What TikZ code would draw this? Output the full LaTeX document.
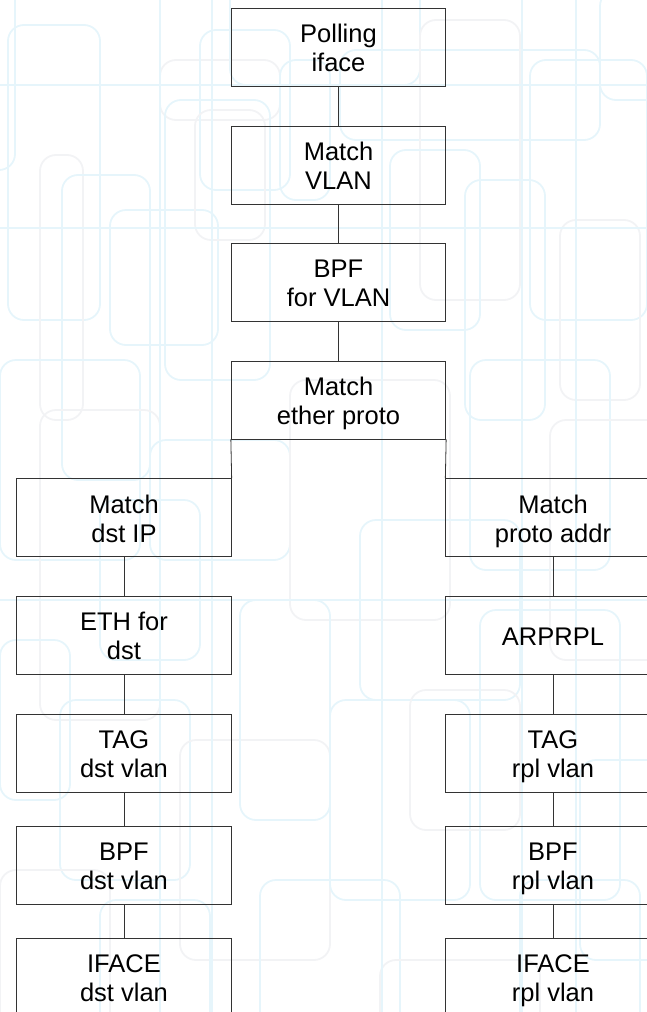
\documentclass[tikz,border=0pt]{standalone}
\usepackage{fontspec}
\setmainfont{Liberation Sans}
\definecolor{bgblue}{RGB}{230,245,251}
\definecolor{bggray}{RGB}{242,243,245}
\definecolor{boxline}{RGB}{51,51,51}
% two lines of a block label, with a taller first line so both sit low in the box
\newcommand\blocktext[2]{\rule{0pt}{29pt}#1\\#2\strut}
\begin{document}
\begin{tikzpicture}[x=1pt,y=-1pt,
  blockbox/.style={draw=boxline,line width=0.8pt,rectangle,
    minimum width=214.5pt,minimum height=78pt,inner sep=0pt,align=center,
    font=\fontsize{25.5}{29}\selectfont},
  wire/.style={draw=boxline,line width=0.8pt},
  bgrect/.style={line width=1.8pt,rounded corners=16pt}]
\useasboundingbox (0,0) rectangle (647,1012);
\begin{scope}
\clip (0,0) rectangle (647,1012);
% faint rounded-rectangle backdrop
\foreach \a/\b/\c/\d/\col in {
  -20/-30/15/170/bgblue, 8/25/100/320/bgblue, 40/155/83/420/bggray,
  62/175/150/480/bgblue, 110/210/218/345/bgblue, 160/60/280/120/bggray,
  165/100/270/380/bgblue, 200/30/290/190/bgblue, 195/110/265/240/bggray,
  230/-20/420/85/bgblue, 280/60/330/200/bgblue, 340/50/600/140/bgblue,
  420/20/520/300/bggray, 465/180/545/420/bgblue, 530/60/647/320/bgblue,
  560/220/640/400/bggray, 390/150/480/330/bgblue, 600/-10/700/100/bgblue,
  0/360/140/560/bgblue, 40/410/160/720/bggray, 100/500/200/660/bgblue,
  150/440/290/560/bgblue, 290/380/450/620/bggray, 360/520/520/700/bgblue,
  470/360/610/570/bgblue, 550/420/680/660/bggray, 0/640/70/800/bgblue,
  60/700/190/880/bgblue, 180/740/330/960/bggray, 240/600/330/820/bgblue,
  330/700/470/900/bgblue, 410/690/520/830/bggray, 480/610/620/900/bgblue,
  580/760/700/960/bgblue, 0/870/110/1040/bggray, 100/900/210/1050/bgblue,
  260/880/400/1050/bgblue, 380/960/540/1060/bggray, 520/880/640/1040/bgblue}
  \draw[bgrect,draw=\col] (\a,\b) rectangle (\c,\d);
\foreach \xx in {160,212,382,522,576}
  \draw[line width=1.8pt,draw=bgblue] (\xx,0) -- (\xx,1012);
\foreach \yy in {85,228,600}
  \draw[line width=1.8pt,draw=bgblue] (0,\yy) -- (647,\yy);
\end{scope}

% main chain
\node[blockbox] (poll)  at (338.5,47)  {\blocktext{Polling}{iface}};
\node[blockbox] (mvlan) at (338.5,165) {\blocktext{Match}{VLAN}};
\node[blockbox] (bpfv)  at (338.5,282) {\blocktext{BPF}{for VLAN}};
\node[blockbox] (ether) at (338.5,400) {\blocktext{Match}{ether proto}};

% IP branch
\node[blockbox] (dstip)  at (124,517.5) {\blocktext{Match}{dst IP}};
\node[blockbox] (ethdst) at (124,635)   {\blocktext{ETH for}{dst}};
\node[blockbox] (tagdst) at (124,753)   {\blocktext{TAG}{dst vlan}};
\node[blockbox] (bpfdst) at (124,865)   {\blocktext{BPF}{dst vlan}};
\node[blockbox] (ifdst)  at (124,977)   {\blocktext{IFACE}{dst vlan}};

% ARP branch
\node[blockbox] (paddr)  at (553,517.5) {\blocktext{Match}{proto addr}};
\node[blockbox] (arprpl) at (553,635)   {\rule{0pt}{29pt}ARPRPL\strut};
\node[blockbox] (tagrpl) at (553,753)   {\blocktext{TAG}{rpl vlan}};
\node[blockbox] (bpfrpl) at (553,865)   {\blocktext{BPF}{rpl vlan}};
\node[blockbox] (ifrpl)  at (553,977)   {\blocktext{IFACE}{rpl vlan}};

% connectors
\draw[wire] (poll) -- (mvlan);
\draw[wire] (mvlan) -- (bpfv);
\draw[wire] (bpfv) -- (ether);
\draw[wire] (ether.south west) -- (dstip.north east);
\draw[wire] (ether.south east) -- (paddr.north west);
\draw[wire] (dstip) -- (ethdst);
\draw[wire] (ethdst) -- (tagdst);
\draw[wire] (tagdst) -- (bpfdst);
\draw[wire] (bpfdst) -- (ifdst);
\draw[wire] (paddr) -- (arprpl);
\draw[wire] (arprpl) -- (tagrpl);
\draw[wire] (tagrpl) -- (bpfrpl);
\draw[wire] (bpfrpl) -- (ifrpl);
\end{tikzpicture}
\end{document}
